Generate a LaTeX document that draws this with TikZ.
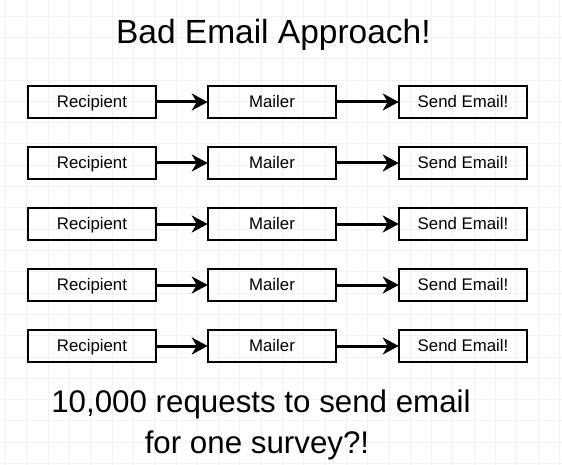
\documentclass[tikz,border=0pt]{standalone}
\usepackage{fontspec}
\setmainfont{Liberation Sans}
\usetikzlibrary{arrows.meta}
\definecolor{gridc}{HTML}{F1F1F1}
\tikzset{
  boxnode/.style={draw=black, line width=2.5pt, minimum width=128pt, minimum height=32pt, inner sep=0pt, text height=13.5pt, text depth=3pt, font=\fontsize{16.8}{18}\selectfont},
  arrowline/.style={line width=3pt, -{Stealth[length=16pt,width=17pt,inset=5pt]}, shorten >=-1pt}
}
\begin{document}
\begin{tikzpicture}[x=1pt,y=-1pt]
\useasboundingbox (0,0) rectangle (562,465);
\fill[white] (0,0) rectangle (562,465);
\foreach \i in {0,...,26} {
  \draw[gridc, line width=0.6pt] ({5.4+21.3*\i},0) -- ({5.4+21.3*\i},465);
}
\foreach \j in {0,...,21} {
  \draw[gridc, line width=0.6pt] (0,{16+21.3*\j}) -- (562,{16+21.3*\j});
}
\node[anchor=base, font=\fontsize{33.5}{36}\selectfont] (title) at (273.4,44) {Bad Email Approach!};
\foreach \r/\y in {1/102, 2/163, 3/224, 4/285, 5/346} {
  \node[boxnode] (rec\r) at (92,\y) {Recipient};
  \node[boxnode] (mail\r) at (272,\y) {Mailer};
  \node[boxnode] (send\r) at (463,\y) {Send Email!};
  \draw[arrowline] (rec\r) -- (mail\r);
  \draw[arrowline] (mail\r) -- (send\r);
}
\node[anchor=base, font=\fontsize{31.3}{36}\selectfont] (l1) at (261,412) {10,000 requests to send email};
\node[anchor=base, font=\fontsize{31.3}{36}\selectfont] (l2) at (257,453) {for one survey?!};
\end{tikzpicture}
\end{document}
